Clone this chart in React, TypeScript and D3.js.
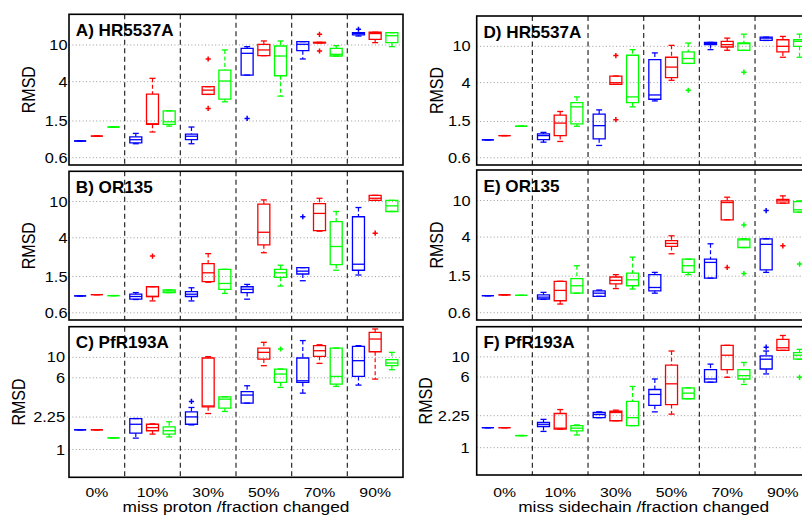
import React from "react";
import * as d3 from "d3";

// ---------- categories, ticks, labels ----------
const groups = ["0%", "10%", "30%", "50%", "70%", "90%"];
const ticksMain = [0.6, 1.5, 4, 10];
const ticksPfR = [1, 2.25, 6, 10];
const yLabel = "RMSD";
const xLabelLeft = "miss proton /fraction changed";
const xLabelRight = "miss sidechain /fraction changed";

// ---------- data: [lowWhisker, q1, median, q3, highWhisker] per group ----------
// A) HR5537A, miss proton
const aBlue = [[0.91,0.91,0.91,0.91,0.91],[0.85,0.87,0.94,1.01,1.1],[0.85,0.94,1.025,1.08,1.29],[4.72,4.72,8.12,9.2,9.59],[7.05,8.68,10.17,10.87,10.87],[12.5,12.84,13.3,13.6,13.6]];
const aBlueOut = [[],[],[],[1.6],[],[14.8]];
const aRed = [[1.03,1.03,1.03,1.03,1.03],[1.14,1.38,1.4,2.93,4.35],[2.91,2.91,3.24,3.53,3.53],[7.66,7.66,8.83,10.17,11.05],[10.5,10.5,10.6,10.7,10.7],[10.6,11.5,13.3,13.73,13.73]];
const aRedOut = [[],[],[7.05,2.05],[],[13.05,8.6],[]];
const aGreen = [[1.29,1.29,1.29,1.29,1.29],[1.32,1.38,1.47,1.93,1.93],[2.42,2.59,4.07,5.35,8.83],[2.79,4.64,7.59,9.75,11.05],[7.59,7.59,7.92,9.2,9.83],[9.59,10.6,12.6,13.6,13.6]];
const aGreenOut = [[],[],[],[],[],[]];

// B) OR135, miss proton
const bBlue = [[0.92,0.92,0.92,0.92,0.92],[0.84,0.847,0.906,0.96,1.0],[0.81,0.906,0.96,1.025,1.13],[0.847,1.0,1.087,1.16,1.23],[1.35,1.6,1.72,1.88,1.88],[1.56,1.76,2.05,6.81,8.6]];
const bBlueOut = [[],[],[],[],[6.81],[]];
const bRed = [[0.95,0.95,0.95,0.95,0.95],[0.81,0.906,0.906,1.16,1.16],[1.3,1.32,1.65,2.08,2.68],[2.74,3.35,4.6,9.36,10.43],[4.73,4.8,7.41,9.51,10.87],[10.3,10.3,10.87,11.7,11.7]];
const bRedOut = [[],[2.52],[],[],[],[4.49]];
const bGreen = [[0.927,0.927,0.927,0.927,0.927],[1.0,1.0,1.04,1.07,1.07],[0.98,1.087,1.26,1.8,1.8],[1.18,1.47,1.65,1.8,2.0],[1.76,2.03,3.21,6.01,7.78],[7.78,7.78,8.97,10.3,10.3]];
const bGreenOut = [[],[],[],[],[],[]];

// C) PfR193A, miss proton
const cBlue = [[1.64,1.64,1.64,1.64,1.64],[1.33,1.51,1.88,2.17,2.17],[1.85,1.88,2.26,2.56,2.86],[3.19,3.19,3.9,4.24,4.92],[4.09,5.35,5.57,9.84,15.2],[5.0,6.21,9.2,13.17,13.4]];
const cBlueOut = [[],[],[3.33],[],[],[]];
const cRed = [[1.64,1.64,1.64,1.64,1.64],[1.47,1.6,1.73,1.88,1.9],[2.46,2.91,2.97,9.84,10.17],[8.12,9.59,11.33,12.6,14.56],[8.6,10.25,11.8,13.4,13.7],[5.81,11.5,15.8,18.7,20.3]];
const cRedOut = [[],[],[],[],[],[]];
const cGreen = [[1.34,1.34,1.34,1.34,1.34],[1.37,1.47,1.6,1.76,2.0],[2.59,2.81,3.52,3.73,3.73],[4.72,5.35,6.59,7.47,7.47],[4.84,5.13,6.21,12.6,12.6],[7.35,8.12,8.68,9.43,11.33]];
const cGreenOut = [[],[],[],[12.32],[],[]];

// D) HR5537A, miss sidechain
const dBlue = [[0.944,0.944,0.944,0.944,0.944],[0.89,0.95,1.05,1.096,1.14],[0.819,0.968,1.35,1.81,2.01],[2.52,2.63,2.93,7.16,8.47],[9.2,10.43,10.78,11.05,11.05],[11.6,11.6,12.3,12.6,12.6]];
const dBlueOut = [[],[],[],[],[],[]];
const dRed = [[1.05,1.05,1.05,1.05,1.05],[0.906,1.05,1.44,1.76,1.93],[3.83,3.83,3.99,4.72,4.72],[4.24,4.53,5.92,7.59,10.25],[9.05,9.83,10.43,11.33,12.3],[7.59,8.68,10.0,11.8,12.84]];
const dRedOut = [[],[],[7.92,1.57],[],[],[]];
const dGreen = [[1.33,1.33,1.33,1.33,1.33],[1.33,1.41,2.17,2.42,2.79],[2.17,2.42,2.79,7.98,9.2],[6.49,6.49,7.35,8.68,10.87],[9.05,9.05,10.7,10.87,13.6],[7.59,10.0,11.33,11.8,13.6]];
const dGreenOut = [[],[],[],[3.3],[5.21],[]];

// E) OR135, miss sidechain
const eBlue = [[0.92,0.92,0.92,0.92,0.92],[0.84,0.847,0.887,0.94,1.0],[0.906,0.906,0.98,1.04,1.06],[0.98,1.04,1.13,1.56,1.65],[1.43,1.43,2.12,2.3,3.38],[1.65,1.76,3.33,3.83,3.83]];
const eBlueOut = [[],[],[],[],[],[7.78]];
const eRed = [[0.94,0.94,0.94,0.94,0.94],[0.746,0.81,1.05,1.32,1.32],[1.1,1.24,1.35,1.47,1.56],[2.63,3.16,3.41,3.65,4.13],[6.17,6.17,9.51,9.92,10.87],[9.36,9.36,9.92,10.3,11.24]];
const eRedOut = [[],[],[],[],[1.87],[3.21]];
const eGreen = [[0.927,0.927,0.927,0.927,0.927],[0.98,0.98,1.18,1.41,1.95],[1.087,1.18,1.37,1.62,2.42],[1.56,1.65,1.95,2.3,2.3],[3.08,3.08,3.73,3.83,3.83],[7.47,7.47,7.92,9.75,9.92]];
const eGreenOut = [[],[],[],[],[5.43,1.6],[2.03]];

// F) PfR193A, miss sidechain
const fBlue = [[1.66,1.66,1.66,1.66,1.66],[1.51,1.71,1.81,1.9,2.05],[2.14,2.14,2.32,2.44,2.48],[2.48,2.93,3.86,4.37,5.71],[5.26,5.26,5.71,7.23,8.32],[6.49,7.35,9.43,10.25,11.6]];
const fBlueOut = [[],[],[],[],[],[12.8]];
const fRed = [[1.66,1.66,1.66,1.66,1.66],[1.6,1.6,1.64,2.38,2.63],[1.98,1.98,2.44,2.52,2.59],[2.34,2.98,5.05,8.12,11.6],[5.96,7.23,10.43,13.4,13.4],[11.8,11.8,12.6,15.6,17.2]];
const fRedOut = [[],[],[],[],[],[]];
const fGreen = [[1.36,1.36,1.36,1.36,1.36],[1.38,1.53,1.64,1.75,1.78],[1.75,1.75,2.14,3.24,4.72],[3.46,3.46,3.99,4.56,4.56],[4.97,5.71,6.21,7.23,8.68],[9.43,9.43,10.43,11.15,12.1]];
const fGreenOut = [[],[],[],[],[],[5.96]];

// ---------- styles & layout ----------
const COLORS = ["#0000ff", "#ff0000", "#00ff00"];
const FONT = "'Liberation Sans', Arial, Helvetica, sans-serif";
const SX = 1.17;
const PW = 334;
const Y_DOMAIN: [number, number] = [0.5, 21.5];

type Panel = {
  title: string; x0: number; top: number; bottom: number; ticks: number[];
  series: number[][][]; outliers: number[][][]; tickOff: number; labelOff: number;
  xLabel?: string;
};

const panels: Panel[] = [
  { title: "A) HR5537A", x0: 69, top: 14.3, bottom: 165, ticks: ticksMain, series: [aBlue, aRed, aGreen], outliers: [aBlueOut, aRedOut, aGreenOut], tickOff: 1.5, labelOff: 34 },
  { title: "B) OR135", x0: 69, top: 171.3, bottom: 320, ticks: ticksMain, series: [bBlue, bRed, bGreen], outliers: [bBlueOut, bRedOut, bGreenOut], tickOff: 1.5, labelOff: 34 },
  { title: "C) PfR193A", x0: 69, top: 326.7, bottom: 477.3, ticks: ticksPfR, series: [cBlue, cRed, cGreen], outliers: [cBlueOut, cRedOut, cGreenOut], tickOff: 4, labelOff: 44, xLabel: xLabelLeft },
  { title: "D) HR5537A", x0: 476.7, top: 16, bottom: 165, ticks: ticksMain, series: [dBlue, dRed, dGreen], outliers: [dBlueOut, dRedOut, dGreenOut], tickOff: 6, labelOff: 34 },
  { title: "E) OR135", x0: 476.7, top: 170, bottom: 320, ticks: ticksMain, series: [eBlue, eRed, eGreen], outliers: [eBlueOut, eRedOut, eGreenOut], tickOff: 6, labelOff: 34 },
  { title: "F) PfR193A", x0: 476.7, top: 326.7, bottom: 475, ticks: ticksPfR, series: [fBlue, fRed, fGreen], outliers: [fBlueOut, fRedOut, fGreenOut], tickOff: 7, labelOff: 45, xLabel: xLabelRight },
];

const OFFS = [0.2, 0.5, 0.8];
const BOX_HALF = 6;
const CAP_HALF = 3;

function PanelView({ p }: { p: Panel }) {
  const x = d3.scaleBand<string>().domain(groups).range([p.x0, p.x0 + PW]).padding(0);
  const bw = x.bandwidth();
  const y = d3.scaleLog().domain(Y_DOMAIN).range([p.bottom, p.top]);
  const fmt = (v: number) => String(v);
  const elems: React.ReactNode[] = [];

  p.series.forEach((ser, si) => {
    const col = COLORS[si];
    ser.forEach((st, gi) => {
      const cx = (x(groups[gi]) as number) + bw * OFFS[si];
      const [lo, q1, med, q3, hi] = st.map((v) => y(v));
      const k = `${si}-${gi}`;
      if (hi < q3 - 0.5)
        elems.push(<line key={k + "wu"} x1={cx} x2={cx} y1={hi} y2={q3} stroke={col} strokeWidth={1.2} strokeDasharray="4,2.5" />);
      if (lo > q1 + 0.5)
        elems.push(<line key={k + "wl"} x1={cx} x2={cx} y1={q1} y2={lo} stroke={col} strokeWidth={1.2} strokeDasharray="4,2.5" />);
      elems.push(<line key={k + "cu"} x1={cx - CAP_HALF} x2={cx + CAP_HALF} y1={hi} y2={hi} stroke={col} strokeWidth={1.3} />);
      elems.push(<line key={k + "cl"} x1={cx - CAP_HALF} x2={cx + CAP_HALF} y1={lo} y2={lo} stroke={col} strokeWidth={1.3} />);
      elems.push(<path key={k + "b"} d={`M${cx - BOX_HALF},${q3}H${cx + BOX_HALF}V${q1}H${cx - BOX_HALF}Z`} fill="none" stroke={col} strokeWidth={1.3} />);
      elems.push(<line key={k + "m"} x1={cx - BOX_HALF} x2={cx + BOX_HALF} y1={med} y2={med} stroke={col} strokeWidth={1.3} />);
      (p.outliers[si][gi] || []).forEach((o, oi) => {
        const oy = y(o);
        elems.push(<path key={k + "o" + oi} d={`M${cx - 2.6},${oy}H${cx + 2.6}M${cx},${oy - 2.6}V${oy + 2.6}`} stroke={col} strokeWidth={1.5} fill="none" />);
      });
    });
  });

  const midY = (p.top + p.bottom) / 2;
  return (
    <g>
      {p.ticks.map((t) => (
        <line key={"g" + t} x1={p.x0} x2={p.x0 + PW} y1={y(t)} y2={y(t)} stroke="#9a9a9a" strokeWidth={1} strokeDasharray="1,2.4" />
      ))}
      {groups.slice(1).map((g) => (
        <line key={"d" + g} x1={x(g)} x2={x(g)} y1={p.top} y2={p.bottom} stroke="#2a2a2a" strokeWidth={1.2} strokeDasharray="5,3.5" />
      ))}
      {elems}
      <rect x={p.x0} y={p.top} width={PW} height={p.bottom - p.top} fill="none" stroke="#000" strokeWidth={1.6} />
      {p.ticks.map((t) => (
        <text key={"t" + t} transform={`translate(${p.x0 - p.tickOff},${y(t) + 5}) scale(${SX},1)`} textAnchor="end" fontSize={14} fontFamily={FONT} fill="#000">
          {fmt(t)}
        </text>
      ))}
      <text transform={`translate(${p.x0 - p.labelOff},${midY}) scale(${SX},1) rotate(-90)`} textAnchor="middle" fontSize={16} fontFamily={FONT} fill="#000">
        {yLabel}
      </text>
      <text transform={`translate(${p.x0 + 6.8},${p.top + 21.5}) scale(1.07,1)`} fontSize={16} fontWeight="bold" fontFamily={FONT} fill="#000">
        {p.title}
      </text>
      {p.xLabel && (
        <g>
          {groups.map((g) => (
            <text key={"x" + g} transform={`translate(${(x(g) as number) + bw / 2},496.5) scale(${SX},1)`} textAnchor="middle" fontSize={13.5} fontFamily={FONT} fill="#000">
              {g}
            </text>
          ))}
          <text transform={`translate(${p.x0 + PW / 2},511.7) scale(${SX},1)`} textAnchor="middle" fontSize={14.8} fontFamily={FONT} fill="#000">
            {p.xLabel}
          </text>
        </g>
      )}
    </g>
  );
}

export default function App() {
  return (
    <svg width={802} height={518} viewBox="0 0 802 518" style={{ position: "absolute", left: 0, top: 0, display: "block", background: "#fff" }}>
      <rect x={0} y={0} width={802} height={518} fill="#fff" />
      {panels.map((p, i) => (
        <PanelView key={i} p={p} />
      ))}
    </svg>
  );
}
